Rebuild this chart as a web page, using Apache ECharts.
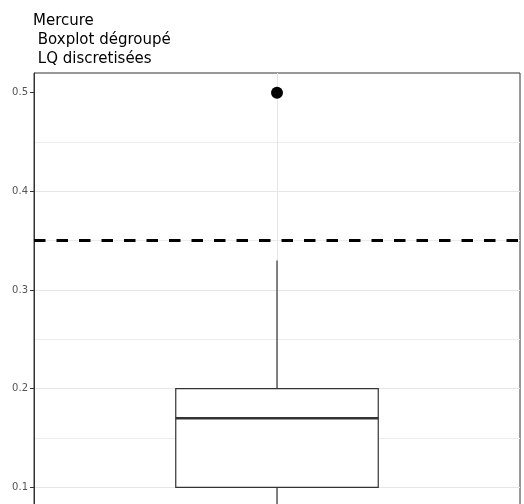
<!DOCTYPE html>
<html>
<head>
<meta charset="utf-8">
<script src="https://cdn.jsdelivr.net/npm/echarts@6/dist/echarts.min.js"></script>
<style>html,body{margin:0;padding:0;background:#fff}#c{width:524px;height:504px}</style>
</head>
<body>
<div id="c"></div>
<script>
// ---- data ----
var titleLines = ['Mercure', ' Boxplot dégroupé', ' LQ discretisées'];
var groupX = [1];
// [lower whisker, Q1, median, Q3, upper whisker]
var boxStats = [[0.03, 0.10, 0.17, 0.20, 0.33]];
var outliers = [0.50];
var lqValue = 0.35;
var yTicks = [0.1, 0.2, 0.3, 0.4, 0.5];
var boxWidth = 0.5;

var boxData = groupX.map(function (x, i) { return [x].concat(boxStats[i]); });
var outlierData = outliers.map(function (v) { return [groupX[0], v]; });

var chart = echarts.init(document.getElementById('c'), null, {renderer: 'canvas'});
var grey = '#333333';
chart.setOption({
  animation: false,
  backgroundColor: '#ffffff',
  title: {
    text: titleLines.join('\n'),
    left: 33, top: 12, padding: 0,
    textStyle: {fontFamily: 'DejaVu Sans', fontSize: 15, fontWeight: 'normal', color: '#000', lineHeight: 18.7}
  },
  grid: {left: 34, right: 4, top: 73, height: 513, outerBoundsMode: 'none', containLabel: false,
         show: true, borderColor: grey, borderWidth: 1, backgroundColor: '#fff'},
  xAxis: {
    type: 'value', min: 0.4, max: 1.6, interval: 0.6,
    axisLine: {show: false}, axisTick: {show: false}, axisLabel: {show: false},
    splitLine: {show: true, showMinLine: false, showMaxLine: false, lineStyle: {color: '#e6e6e6', width: 1}}
  },
  yAxis: {
    type: 'value', min: 0, max: 0.52, interval: 0.1,
    axisLine: {show: true, lineStyle: {color: grey, width: 1}},
    axisTick: {show: true, length: 4, customValues: yTicks, lineStyle: {color: grey}},
    axisLabel: {customValues: yTicks, formatter: function (v) { return v.toFixed(1); }, color: '#555', fontSize: 10, fontFamily: 'DejaVu Sans', margin: 6},
    splitLine: {show: true, showMaxLine: false, lineStyle: {color: '#e6e6e6', width: 1}},
    minorTick: {show: false, splitNumber: 2},
    minorSplitLine: {show: true, lineStyle: {color: '#ececec', width: 1}}
  },
  series: [
    {
      type: 'custom',
      data: boxData,
      encode: {x: 0, y: [1, 2, 3, 4, 5]},
      clip: false,
      renderItem: function (params, api) {
        var x = api.value(0);
        var low = api.coord([x, api.value(1)]);
        var q1 = api.coord([x, api.value(2)]);
        var med = api.coord([x, api.value(3)]);
        var q3 = api.coord([x, api.value(4)]);
        var high = api.coord([x, api.value(5)]);
        var l = api.coord([x - boxWidth / 2, 0])[0];
        var r = api.coord([x + boxWidth / 2, 0])[0];
        var st = {stroke: grey, lineWidth: 1.2};
        return {
          type: 'group',
          children: [
            {type: 'line', shape: {x1: low[0], y1: low[1], x2: q1[0], y2: q1[1]}, style: st},
            {type: 'line', shape: {x1: q3[0], y1: q3[1], x2: high[0], y2: high[1]}, style: st},
            {type: 'rect', shape: {x: l, y: q3[1], width: r - l, height: q1[1] - q3[1]}, style: {fill: '#fff', stroke: grey, lineWidth: 1.2}},
            {type: 'line', shape: {x1: l, y1: med[1], x2: r, y2: med[1]}, style: {stroke: grey, lineWidth: 2.4}}
          ]
        };
      },
      markLine: {
        silent: true, symbol: 'none', label: {show: false},
        lineStyle: {color: '#000', width: 3, type: [11.5, 11]},
        data: [{yAxis: lqValue}]
      },
      z: 3
    },
    {
      type: 'scatter',
      data: outlierData,
      symbol: 'circle', symbolSize: 12,
      itemStyle: {color: '#000', opacity: 1},
      z: 4
    }
  ]
});
</script>
</body>
</html>
